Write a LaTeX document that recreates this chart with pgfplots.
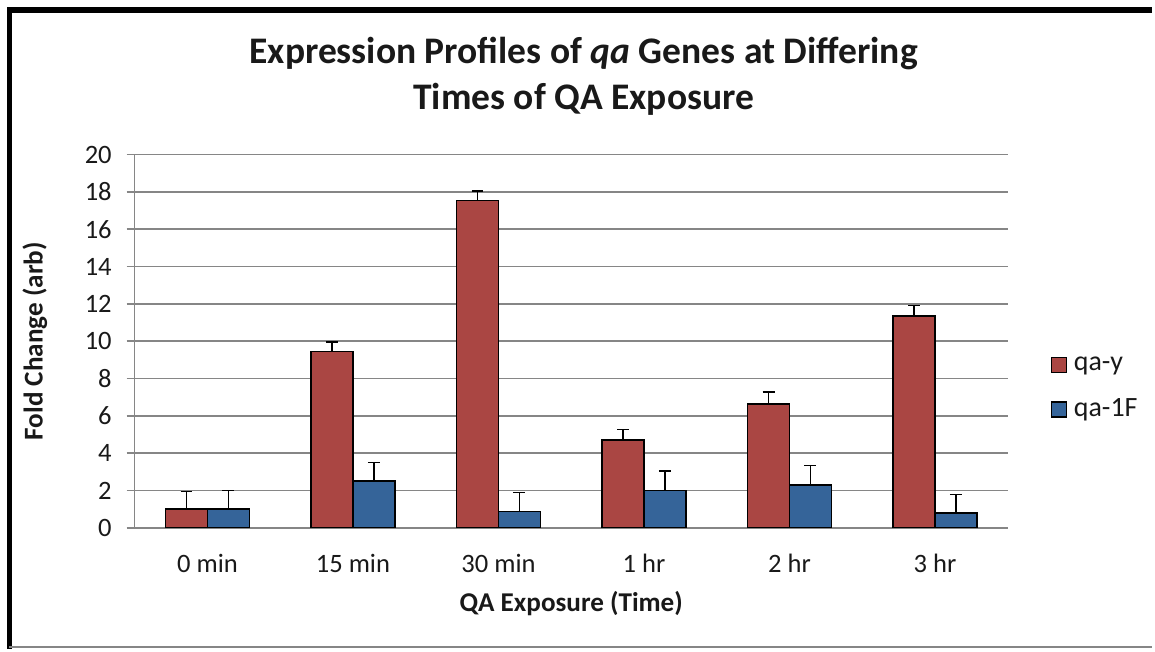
\documentclass[border=0pt]{standalone}
\usepackage{fontspec}
\setmainfont{Carlito}
\usepackage{pgfplots}
\pgfplotsset{compat=1.18}
\definecolor{qared}{RGB}{170,70,67}
\definecolor{qablue}{RGB}{53,100,153}
\definecolor{gridgray}{RGB}{134,134,134}
\begin{document}
\begin{tikzpicture}
\path (0,0) rectangle (577.5pt,325pt);
\draw[line width=2.6pt, line join=miter] (4.75pt,0) -- (4.75pt,320pt) -- (577.5pt,320pt);
\draw[gridgray, line width=0.8pt] (4.75pt,0.8pt) -- (577.5pt,0.8pt);
\node[anchor=base, font=\fontsize{18.8}{22}\selectfont\bfseries, text=black!90] at (292.5pt,293pt) {Expression Profiles of \textit{qa} Genes at Differing};
\node[anchor=base, font=\fontsize{18.8}{22}\selectfont\bfseries, text=black!90] at (292.5pt,270pt) {Times of QA Exposure};
\begin{axis}[
  at={(67.5pt,60.5pt)}, anchor=south west,
  width=437.5pt, height=187pt, scale only axis,
  ybar=0pt, bar width=21pt,
  xmin=-0.5, xmax=5.5, ymin=0, ymax=20,
  xtick=data, xticklabels={0 min,15 min,30 min,1 hr,2 hr,3 hr},
  ytick={0,2,...,20},
  axis lines*=left,
  axis line style={gridgray, line width=0.8pt},
  ymajorgrids, grid style={gridgray, line width=0.8pt},
  tick align=outside, major tick length=4pt,
  ytick style={gridgray, line width=0.8pt},
  xtick style={draw=none},
  /pgf/number format/assume math mode=true,
  tick label style={font=\fontsize{13.3}{15}\selectfont, text=black!90},
  yticklabel style={xshift=-4pt},
  xticklabel style={yshift=-5.5pt},
  xlabel={QA Exposure (Time)}, ylabel={Fold Change (arb)},
  label style={font=\fontsize{13.6}{15}\selectfont\bfseries, text=black!90},
  xlabel style={at={(axis description cs:0.5,-0.203)}, anchor=center},
  ylabel style={at={(axis description cs:-0.1143,0.5)}, anchor=center},
  legend style={at={(axis description cs:1.042,0.374)}, anchor=west, draw=none,
    font=\fontsize{14}{16}\selectfont, row sep=10pt,
    nodes={inner sep=1.5pt, anchor=west, text=black!90}},
  legend image code/.code={\draw[#1, draw=black, line width=0.6pt] (0pt,-3.75pt) rectangle (7.5pt,3.75pt);},
  legend cell align=left,
]
\addplot[fill=qared, draw=black, line width=0.8pt,
  error bars/.cd, y dir=plus, y explicit,
  error bar style={line width=0.8pt, black},
  error mark options={black, line width=0.8pt, mark size=3pt, rotate=90}]
  coordinates {(0,1.0) +- (0,0.95) (1,9.45) +- (0,0.5) (2,17.55) +- (0,0.5) (3,4.72) +- (0,0.55) (4,6.65) +- (0,0.62) (5,11.35) +- (0,0.57)};
\addplot[fill=qablue, draw=black, line width=0.8pt,
  error bars/.cd, y dir=plus, y explicit,
  error bar style={line width=0.8pt, black},
  error mark options={black, line width=0.8pt, mark size=3pt, rotate=90}]
  coordinates {(0,1.0) +- (0,1.0) (1,2.5) +- (0,1.0) (2,0.88) +- (0,1.02) (3,2.0) +- (0,1.03) (4,2.3) +- (0,1.05) (5,0.78) +- (0,1.0)};
\legend{\hspace{2pt}qa-y, \hspace{2pt}qa-1F}
\end{axis}
\end{tikzpicture}
\end{document}
